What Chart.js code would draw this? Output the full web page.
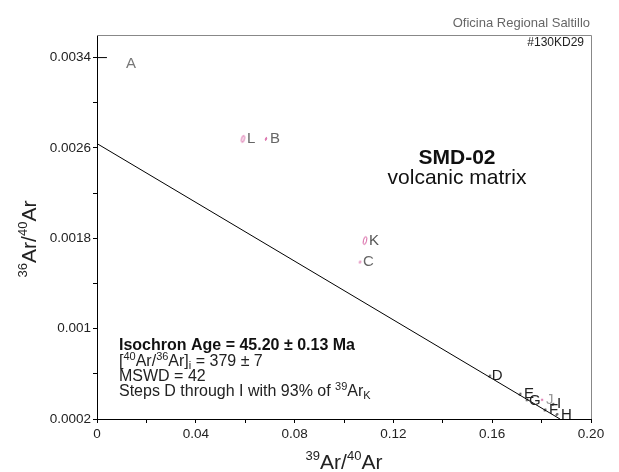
<!DOCTYPE html>
<html>
<head>
<meta charset="utf-8">
<script src="https://cdn.jsdelivr.net/npm/chart.js@4.4.0/dist/chart.umd.min.js"></script>
<style>
  html, body { margin: 0; padding: 0; background: #fff; }
</style>
</head>
<body>
<canvas id="isochron" width="619" height="472"></canvas>
<script>
// heating steps, 39Ar/40Ar vs 36Ar/40Ar
const steps = ['A', 'B', 'C', 'D', 'E', 'F', 'G', 'H', 'I', 'J', 'K', 'L'];
const ar39ar40 = [0.002, 0.0684, 0.1065, 0.159, 0.1713, 0.1814, 0.1741, 0.1862, 0.1846, 0.1802, 0.1085, 0.0591];
const ar36ar40 = [0.0034, 0.00268, 0.00159, 0.00058, 0.00042, 0.00028, 0.00037, 0.00024, 0.00033, 0.00037, 0.00178, 0.00268];
const usedSteps = ['D', 'E', 'F', 'G', 'H', 'I'];

// isochron results
const ageMa = '45.20';
const ageErr = '0.13';
const trapped = 379;
const trappedErr = 7;
const mswd = 42;
const pct39 = 93;

const xTicks = [0, 0.02, 0.04, 0.06, 0.08, 0.1, 0.12, 0.14, 0.16, 0.18, 0.2];
const xTickLabels = ['0', '', '0.04', '', '0.08', '', '0.12', '', '0.16', '', '0.20'];
const yTicks = [0.0002, 0.0006, 0.001, 0.0014, 0.0018, 0.0022, 0.0026, 0.003, 0.0034];
const yTickLabels = ['0.0002', '', '0.001', '', '0.0018', '', '0.0026', '', '0.0034'];

const FONT = '"Liberation Sans", Arial, sans-serif';
const PINK = '#d65ea0';

// line through the trapped intercept down to the bottom of the plot
const yIntercept = 1 / trapped;
const yFloor = 0.0002;
const isoSlope = -0.01301;
const isoLine = [
  { x: 0, y: yIntercept },
  { x: (yFloor - yIntercept) / isoSlope, y: yFloor }
];

function ellipseMark(color, rx, ry, angle) {
  const c = document.createElement('canvas');
  const s = Math.ceil(Math.max(rx, ry) * 2 + 4);
  c.width = c.height = s;
  const g = c.getContext('2d');
  g.strokeStyle = color;
  g.lineWidth = 1;
  g.beginPath();
  g.ellipse(s / 2, s / 2, rx, ry, angle, 0, Math.PI * 2);
  g.stroke();
  return c;
}

const markStyle = {
  B: ellipseMark(PINK, 0.6, 1.6, 0.3),
  C: ellipseMark(PINK, 0.6, 1.2, 0.3),
  J: ellipseMark(PINK, 0.8, 0.8, 0),
  K: ellipseMark(PINK, 1.6, 4, 0.25),
  L: ellipseMark(PINK, 1.4, 3.5, 0.25)
};
const tinyBlack = ellipseMark('#000', 0.6, 1.2, 0.5);

const pointStyles = steps.map(s => s === 'A' ? 'line' : (markStyle[s] || tinyBlack));
const pointRadii = steps.map(s => s === 'A' ? 5 : 3);

const labelColor = {
  A: '#777', B: '#666', C: '#666', J: '#999', K: '#555', L: '#666'
};
const labelShift = { A: [24, 6], C: [3, 0], D: [2, 0], G: [2, 1] };

function richWidth(ctx, parts) {
  let w = 0;
  parts.forEach(p => {
    ctx.font = (p.bold ? 'bold ' : '') + p.size + 'px ' + FONT;
    w += ctx.measureText(p.t).width;
  });
  return w;
}

function drawRich(ctx, parts, x, y, align) {
  let cx = x;
  if (align === 'center') cx = x - richWidth(ctx, parts) / 2;
  if (align === 'right') cx = x - richWidth(ctx, parts);
  ctx.textAlign = 'left';
  ctx.textBaseline = 'alphabetic';
  parts.forEach(p => {
    ctx.font = (p.bold ? 'bold ' : '') + p.size + 'px ' + FONT;
    ctx.fillStyle = p.color || '#222';
    ctx.fillText(p.t, cx, y + (p.dy || 0));
    cx += ctx.measureText(p.t).width;
  });
}

const annotations = {
  id: 'annotations',
  afterDraw(chart) {
    const ctx = chart.ctx;
    const a = chart.chartArea;
    ctx.save();

    // top and right frame
    ctx.strokeStyle = '#888';
    ctx.lineWidth = 1;
    ctx.beginPath();
    ctx.moveTo(a.left, Math.round(a.top) + 0.5);
    ctx.lineTo(Math.round(a.right) + 0.5, Math.round(a.top) + 0.5);
    ctx.lineTo(Math.round(a.right) + 0.5, a.bottom);
    ctx.stroke();

    // step letters
    const meta = chart.getDatasetMeta(1);
    ctx.font = '15px ' + FONT;
    ctx.textBaseline = 'middle';
    ctx.textAlign = 'left';
    steps.forEach((s, i) => {
      const el = meta.data[i];
      const sh = labelShift[s] || [4, 0];
      ctx.fillStyle = usedSteps.includes(s) ? '#222' : (labelColor[s] || '#666');
      ctx.fillText(s, el.x + sh[0], el.y + sh[1]);
    });

    // header
    drawRich(ctx, [{ t: 'Oficina Regional Saltillo', size: 13, color: '#666' }], 590, 27, 'right');
    drawRich(ctx, [{ t: '#130KD29', size: 12, color: '#222' }], 584, 46, 'right');

    // sample name
    drawRich(ctx, [{ t: 'SMD-02', size: 21, bold: true, color: '#111' }], 457, 164, 'center');
    drawRich(ctx, [{ t: 'volcanic matrix', size: 21, color: '#111' }], 457, 184, 'center');

    // isochron results
    const tx = 119;
    drawRich(ctx, [{ t: 'Isochron Age = ' + ageMa + ' \u00b1 ' + ageErr + ' Ma', size: 16, bold: true, color: '#111' }], tx, 350);
    drawRich(ctx, [
      { t: '[', size: 16 }, { t: '40', size: 11, dy: -6 }, { t: 'Ar/', size: 16 },
      { t: '36', size: 11, dy: -6 }, { t: 'Ar]', size: 16 }, { t: 'i', size: 11, dy: 3 },
      { t: ' = ' + trapped + ' \u00b1 ' + trappedErr, size: 16 }
    ], tx, 366);
    drawRich(ctx, [{ t: 'MSWD = ' + mswd, size: 16 }], tx, 381);
    drawRich(ctx, [
      { t: 'Steps ' + usedSteps[0] + ' through ' + usedSteps[usedSteps.length - 1] + ' with ' + pct39 + '% of ', size: 16 },
      { t: '39', size: 11, dy: -6 }, { t: 'Ar', size: 16 }, { t: 'K', size: 11, dy: 3 }
    ], tx, 396);

    // axis titles
    const title = (a1, a2) => [
      { t: a1, size: 13, dy: -9 }, { t: 'Ar/', size: 21 },
      { t: a2, size: 13, dy: -9 }, { t: 'Ar', size: 21 }
    ];
    drawRich(ctx, title('39', '40'), (a.left + a.right) / 2, 469, 'center');
    ctx.translate(36, 239);
    ctx.rotate(-Math.PI / 2);
    drawRich(ctx, title('36', '40'), 0, 0, 'center');

    ctx.restore();
  }
};

new Chart(document.getElementById('isochron'), {
  type: 'scatter',
  data: {
    datasets: [
      {
        label: 'isochron',
        data: isoLine,
        showLine: true,
        borderColor: '#000',
        borderWidth: 1,
        pointRadius: 0
      },
      {
        label: 'steps',
        data: ar39ar40.map((x, i) => ({ x: x, y: ar36ar40[i] })),
        pointStyle: pointStyles,
        pointRadius: pointRadii,
        borderColor: '#000',
        borderWidth: 1,
        backgroundColor: 'transparent'
      }
    ]
  },
  options: {
    responsive: false,
    animation: false,
    devicePixelRatio: 1,
    layout: { padding: { top: 35, right: 28, left: 0, bottom: 0 } },
    plugins: { legend: { display: false }, tooltip: { enabled: false } },
    scales: {
      x: {
        type: 'linear',
        min: 0,
        max: 0.2,
        afterBuildTicks: s => { s.ticks = xTicks.map(v => ({ value: v })); },
        afterFit: s => { s.height = 53; },
        ticks: {
          callback: (v, i) => xTickLabels[i],
          autoSkip: false,
          maxRotation: 0,
          padding: 3,
          color: '#222',
          font: { family: FONT, size: 13.5 }
        },
        grid: { drawOnChartArea: false, tickLength: 4, color: '#000' },
        border: { color: '#000', width: 1 }
      },
      y: {
        type: 'linear',
        min: 0.0002,
        max: 0.0036,
        afterBuildTicks: s => { s.ticks = yTicks.map(v => ({ value: v })); },
        afterFit: s => { s.width = 97; },
        ticks: {
          callback: (v, i) => yTickLabels[i],
          autoSkip: false,
          padding: 2,
          color: '#222',
          font: { family: FONT, size: 13.5 }
        },
        grid: { drawOnChartArea: false, tickLength: 4, color: '#000' },
        border: { color: '#000', width: 1 }
      }
    }
  },
  plugins: [annotations]
});
</script>
</body>
</html>
